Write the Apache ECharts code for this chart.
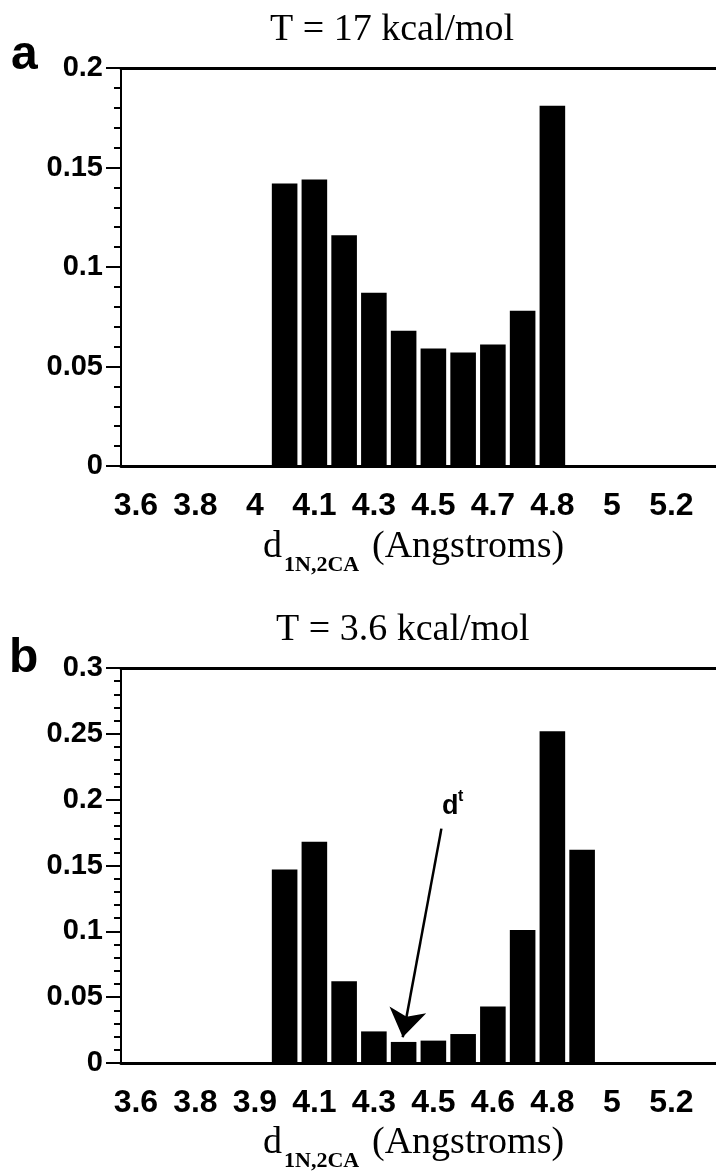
<!DOCTYPE html>
<html>
<head>
<meta charset="utf-8">
<script src="https://cdn.jsdelivr.net/npm/echarts@6.0.0/dist/echarts.min.js"></script>
<style>
  html, body { margin: 0; padding: 0; background: #fff; }
  #main { width: 716px; height: 1171px; }
</style>
</head>
<body>
<div id="main"></div>
<script>
// tick labels, one per two bins (every other bin center)
const tickLabelsA = ['3.6', '3.8', '4', '4.1', '4.3', '4.5', '4.7', '4.8', '5', '5.2'];
const tickLabelsB = ['3.6', '3.8', '3.9', '4.1', '4.3', '4.5', '4.6', '4.8', '5', '5.2'];

// histogram values, 20 bins
const valuesA = [0, 0, 0, 0, 0, 0.142, 0.144, 0.116, 0.087, 0.068, 0.059, 0.057, 0.061, 0.078, 0.181, 0, 0, 0, 0, 0];
const valuesB = [0, 0, 0, 0, 0, 0.147, 0.168, 0.062, 0.024, 0.016, 0.017, 0.022, 0.043, 0.101, 0.252, 0.162, 0, 0, 0, 0];

// arrow pointing at d^t, in (bin, value) units of panel b
const arrowFrom = [10.77, 0.178];
const arrowTo = [9.47, 0.0195];

const nBins = valuesA.length;

// odd bins get no label, but need a unique name
const binNames = (labels) => valuesA.map((v, i) => i % 2 === 0 ? labels[i / 2] : 'bin' + i);

const black = '#000';
const xTickFont = {color: black, fontFamily: 'Liberation Sans', fontSize: 32, fontWeight: 'bold'};
const yTickFont = {color: black, fontFamily: 'Liberation Sans', fontSize: 29, fontWeight: 'bold'};
const serif = {color: black, fontFamily: 'Liberation Serif', fontSize: 38, fontWeight: 'normal'};
const subStyle = {color: black, fontFamily: 'Liberation Serif', fontSize: 22, fontWeight: 'bold'};
const letter = {color: black, fontFamily: 'Liberation Sans', fontSize: 48, fontWeight: 'bold'};

const mainX = (grid, labels) => ({
  type: 'category',
  gridIndex: grid,
  position: 'bottom',
  data: binNames(labels),
  boundaryGap: true,
  axisLine: {lineStyle: {color: black, width: 3}},
  axisTick: {interval: 0, alignWithLabel: false, length: 15, lineStyle: {color: black, width: 2}},
  axisLabel: {interval: 1, margin: 24, ...xTickFont},
  splitLine: {show: false}
});
// short ticks at bin centers
const minorX = (grid, labels) => ({
  type: 'category',
  gridIndex: grid,
  position: 'bottom',
  data: binNames(labels),
  axisLine: {show: false},
  axisTick: {interval: 0, alignWithLabel: true, length: 8, lineStyle: {color: black, width: 2}},
  axisLabel: {show: false},
  splitLine: {show: false}
});
// top frame line, also used for the arrow
const topX = (grid) => ({
  type: 'value',
  gridIndex: grid,
  position: 'top',
  min: 0,
  max: nBins,
  axisLine: {show: true, onZero: false, lineStyle: {color: black, width: 3}},
  axisTick: {show: false},
  axisLabel: {show: false},
  splitLine: {show: false}
});
const yAx = (grid, max) => ({
  type: 'value',
  gridIndex: grid,
  min: 0,
  max: max,
  interval: 0.05,
  axisLine: {show: true, lineStyle: {color: black, width: 2}},
  axisTick: {show: true, length: 15, lineStyle: {color: black, width: 2}},
  minorTick: {show: true, splitNumber: 5, length: 7, lineStyle: {color: black, width: 2}},
  axisLabel: {margin: 18, ...yTickFont},
  splitLine: {show: false}
});

const chart = echarts.init(document.getElementById('main'));
const option = {
  animation: false,
  backgroundColor: '#fff',
  title: [
    {text: 'T = 17 kcal/mol', left: 270, top: 11, padding: 0, textStyle: serif},
    {text: 'a', left: 11, top: 32, padding: 0, textStyle: letter},
    {text: 'd', left: 263, top: 528, padding: 0, textStyle: serif},
    {text: '1N,2CA', left: 284, top: 554, padding: 0, textStyle: subStyle},
    {text: '(Angstroms)', left: 372, top: 528, padding: 0, textStyle: serif},

    {text: 'T = 3.6 kcal/mol', left: 276, top: 611, padding: 0, textStyle: serif},
    {text: 'b', left: 9, top: 635, padding: 0, textStyle: letter},
    {text: 'd', left: 263, top: 1124, padding: 0, textStyle: serif},
    {text: '1N,2CA', left: 284, top: 1150, padding: 0, textStyle: subStyle},
    {text: '(Angstroms)', left: 372, top: 1124, padding: 0, textStyle: serif},

    {text: 'd', left: 442, top: 793, padding: 0, textStyle: {...letter, fontSize: 27}},
    {text: 't', left: 458, top: 789, padding: 0, textStyle: {...letter, fontSize: 16}}
  ],
  grid: [
    {left: 121, top: 68, width: 600, height: 398},
    {left: 121, top: 668, width: 600, height: 395}
  ],
  xAxis: [
    mainX(0, tickLabelsA), minorX(0, tickLabelsA), topX(0),
    mainX(1, tickLabelsB), minorX(1, tickLabelsB), topX(1)
  ],
  yAxis: [yAx(0, 0.2), yAx(1, 0.3)],
  series: [
    {
      type: 'bar', xAxisIndex: 0, yAxisIndex: 0,
      barWidth: '86%',
      itemStyle: {color: black},
      data: valuesA
    },
    {
      type: 'bar', xAxisIndex: 3, yAxisIndex: 1,
      barWidth: '86%',
      itemStyle: {color: black},
      data: valuesB
    },
    {
      type: 'lines', coordinateSystem: 'cartesian2d', xAxisIndex: 5, yAxisIndex: 1,
      symbol: ['none', 'arrow'],
      symbolSize: 28,
      lineStyle: {color: black, width: 2.5, opacity: 1, curveness: 0},
      itemStyle: {color: black},
      data: [{coords: [arrowFrom, arrowTo]}]
    }
  ]
};
chart.setOption(option);
</script>
</body>
</html>
